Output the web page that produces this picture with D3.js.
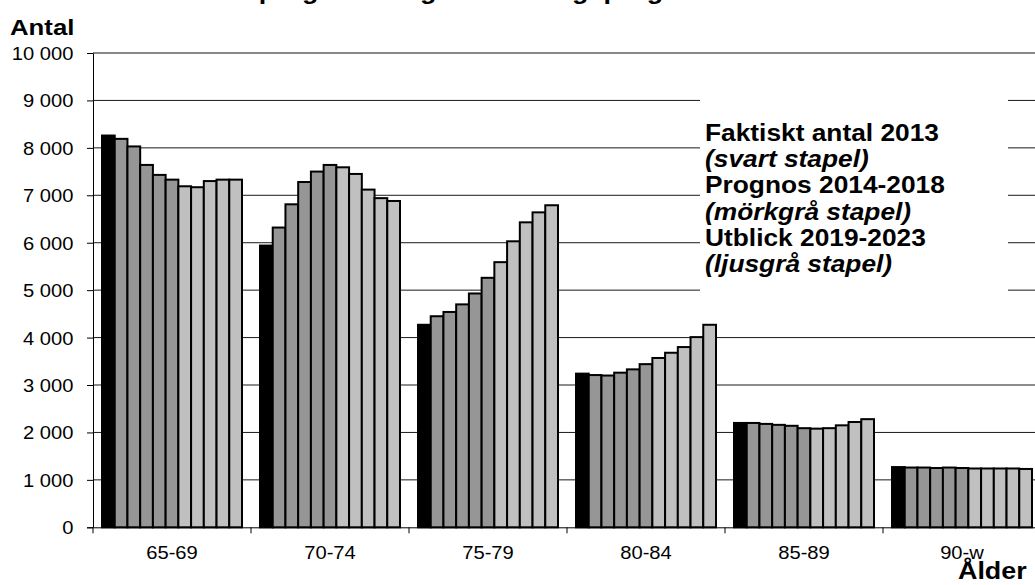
<!DOCTYPE html>
<html>
<head>
<meta charset="utf-8">
<script src="https://cdn.jsdelivr.net/npm/d3@7"></script>
<style>
  html, body { margin: 0; padding: 0; background: #fff; }
  svg { display: block; font-family: "Liberation Sans", Arial, sans-serif; }
</style>
</head>
<body>
<div id="chart"></div>
<script>
// age groups on the x axis, one bar per year inside each group
const ageGroups = ['65-69', '70-74', '75-79', '80-84', '85-89', '90-w'];
const years = [2013, 2014, 2015, 2016, 2017, 2018, 2019, 2020, 2021, 2022, 2023];

const antal6569 = [8260, 8190, 8030, 7640, 7430, 7330, 7190, 7170, 7300, 7330, 7330];
const antal7074 = [5940, 6320, 6810, 7280, 7500, 7640, 7590, 7450, 7120, 6940, 6880];
const antal7579 = [4270, 4450, 4540, 4700, 4930, 5260, 5590, 6030, 6430, 6640, 6790];
const antal8084 = [3240, 3210, 3200, 3260, 3330, 3440, 3570, 3680, 3800, 4010, 4270];
const antal8589 = [2200, 2200, 2180, 2160, 2140, 2090, 2080, 2090, 2150, 2220, 2280];
const antal90w = [1270, 1260, 1260, 1250, 1260, 1250, 1240, 1240, 1240, 1240, 1230];

const yTicks = [0, 1000, 2000, 3000, 4000, 5000, 6000, 7000, 8000, 9000, 10000];

const legendLines = [
  { text: 'Faktiskt antal 2013', italic: false },
  { text: '(svart stapel)', italic: true },
  { text: 'Prognos 2014-2018', italic: false },
  { text: '(mörkgrå stapel)', italic: true },
  { text: 'Utblick 2019-2023', italic: false },
  { text: '(ljusgrå stapel)', italic: true },
];

const title = 'Äldreprognos enligt befolkningsprognos';

const width = 1035;
const height = 585;
const sx = 1.12; // text in the original is a bit wide

const rows = ageGroups.map((g, i) => ({
  group: g,
  values: [antal6569, antal7074, antal7579, antal8084, antal8589, antal90w][i],
}));

function barColor(year) {
  if (year === 2013) return '#000000';
  if (year <= 2018) return '#969696';
  return '#c0c0c0';
}

const svg = d3.select('#chart')
  .append('svg')
  .attr('width', width)
  .attr('height', height);

svg.append('rect')
  .attr('width', width)
  .attr('height', height)
  .attr('fill', '#fff');

const x0 = d3.scaleBand()
  .domain(ageGroups)
  .range([93, 1041]);

const x1 = d3.scaleBand()
  .domain(years)
  .range([9, x0.bandwidth() - 9]);

const y = d3.scaleLinear()
  .domain([0, 10000])
  .range([527.3, 53]);

const fmt = d3.formatLocale({
  decimal: ',', thousands: ' ', grouping: [3], currency: ['', ''],
}).format(',');

function wideText(sel, x, yy) {
  return sel.append('text')
    .attr('transform', `translate(${x},${yy}) scale(${sx},1)`);
}

// gridlines
svg.append('g')
  .selectAll('line')
  .data(yTicks.filter((t) => t > 0 && t < 10000))
  .join('line')
  .attr('x1', 93)
  .attr('x2', 1041)
  .attr('y1', (d) => y(d))
  .attr('y2', (d) => y(d))
  .attr('stroke', '#1a1a1a')
  .attr('stroke-width', 1);

// top border
svg.append('line')
  .attr('x1', 93).attr('x2', 1041)
  .attr('y1', y(10000)).attr('y2', y(10000))
  .attr('stroke', '#888')
  .attr('stroke-width', 2);

// text box covering gridlines
svg.append('rect')
  .attr('x', 700)
  .attr('y', 64)
  .attr('width', 308)
  .attr('height', 230)
  .attr('fill', '#fff');

// bars
const groups = svg.append('g')
  .selectAll('g')
  .data(rows)
  .join('g')
  .attr('transform', (d) => `translate(${x0(d.group)},0)`);

groups.selectAll('rect')
  .data((d) => d.values.map((v, i) => ({ year: years[i], value: v })))
  .join('rect')
  .attr('x', (d) => x1(d.year))
  .attr('y', (d) => y(d.value))
  .attr('width', x1.bandwidth())
  .attr('height', (d) => y(0) - y(d.value))
  .attr('fill', (d) => barColor(d.year))
  .attr('stroke', '#000')
  .attr('stroke-width', 2);

// y axis
const yAxis = svg.append('g')
  .attr('transform', 'translate(93,0)')
  .call(d3.axisLeft(y).tickValues(yTicks).tickSize(6).tickFormat(fmt));
yAxis.select('.domain').attr('stroke', '#000');
yAxis.selectAll('.tick line').attr('stroke', '#000');
yAxis.selectAll('.tick text')
  .attr('x', -17.5)
  .attr('dy', '0.36em')
  .attr('transform', `scale(${sx},1)`)
  .attr('font-size', 18)
  .attr('font-family', '"Liberation Sans", Arial, sans-serif')
  .attr('fill', '#000');

// x axis
const xAxis = svg.append('g')
  .attr('transform', `translate(0,${y(0)})`)
  .call(d3.axisBottom(x0).tickSize(0).tickPadding(0));
xAxis.select('.domain').attr('stroke', '#000');
xAxis.selectAll('.tick text')
  .attr('y', 32)
  .attr('dy', 0)
  .attr('transform', `scale(${sx},1)`)
  .attr('font-size', 18)
  .attr('font-family', '"Liberation Sans", Arial, sans-serif')
  .attr('fill', '#000');

// category boundary ticks
svg.append('g')
  .selectAll('line')
  .data(ageGroups)
  .join('line')
  .attr('x1', (d) => x0(d))
  .attr('x2', (d) => x0(d))
  .attr('y1', y(0))
  .attr('y2', y(0) + 6)
  .attr('stroke', '#000');

// legend text
legendLines.forEach((l, i) => {
  wideText(svg, 705, 141 + i * 26.2)
    .attr('font-size', 23.5)
    .attr('font-weight', 'bold')
    .attr('font-style', l.italic ? 'italic' : 'normal')
    .attr('fill', '#000')
    .text(l.text);
});

// axis titles
wideText(svg, 10, 35)
  .attr('font-size', 23)
  .attr('font-weight', 'bold')
  .text('Antal');

wideText(svg, 958, 579)
  .attr('font-size', 24)
  .attr('font-weight', 'bold')
  .text('Ålder');

// chart title, mostly above the visible area
wideText(svg, 190, -1)
  .attr('font-size', 24)
  .attr('font-weight', 'bold')
  .text(title);
</script>
</body>
</html>
